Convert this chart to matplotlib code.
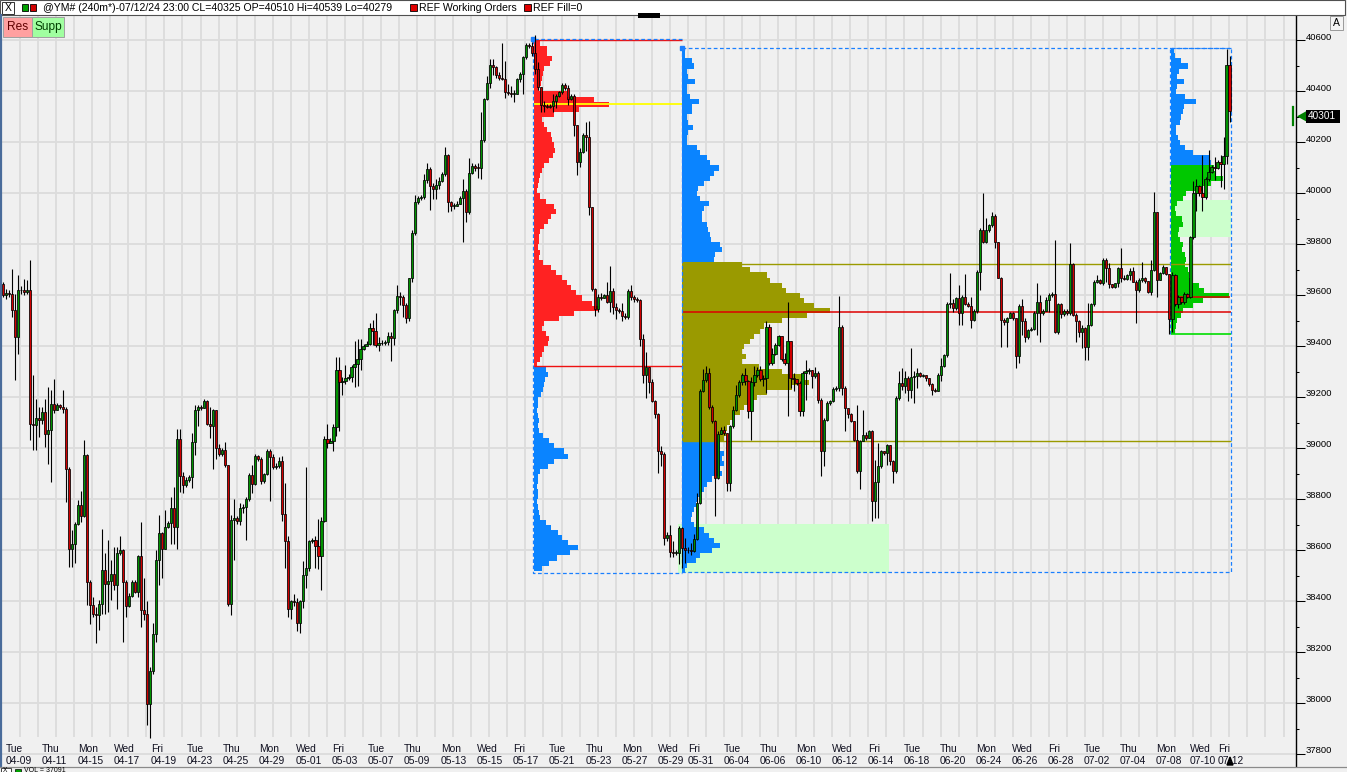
import numpy as np
import matplotlib
matplotlib.use("Agg")
import matplotlib.pyplot as plt
from matplotlib.patches import Rectangle, Polygon
from matplotlib.lines import Line2D
import matplotlib.transforms as mtransforms

plt.rcParams['font.family'] = ['Liberation Sans', 'DejaVu Sans']

# ---------------------------------------------------------------- data
symbol_info = "@YM# (240m*)-07/12/24 23:00 CL=40325 OP=40510 Hi=40539 Lo=40279"
first_open = 39646

closes = [
 39601, 39610, 39605, 39544, 39437, 39620, 39623, 39612, 39620, 39097,
 39093, 39120, 39113, 39143, 39058, 39071, 39176, 39152, 39169, 39163,
 39156, 38921, 38607, 38627, 38705, 38777, 38734, 38973, 38477, 38385,
 38352, 38346, 38389, 38525, 38470, 38479, 38509, 38464, 38588, 38600,
 38477, 38381, 38420, 38477, 38437, 38577, 38366, 38350, 37999, 38128,
 38272, 38564, 38669, 38607, 38690, 38708, 38768, 38690, 39035, 38891,
 38855, 38875, 38886, 39025, 39152, 39163, 39160, 39186, 39097, 39087,
 39152, 39003, 38977, 38995, 38934, 38389, 38721, 38727, 38716, 38768,
 38770, 38800, 38895, 38861, 38969, 38960, 38872, 38898, 38991, 38965,
 38929, 38930, 38949, 38743, 38635, 38371, 38402, 38398, 38314, 38402,
 38504, 38530, 38635, 38640, 38616, 38577, 38717, 39038, 39022, 39031,
 39084, 39306, 39259, 39263, 39275, 39280, 39321, 39332, 39352, 39391,
 39402, 39411, 39472, 39461, 39406, 39412, 39415, 39417, 39441, 39433,
 39541, 39599, 39592, 39561, 39510, 39667, 39845, 39968, 39983, 39988,
 40053, 40096, 40030, 40019, 40034, 40050, 40076, 40150, 39968, 39952,
 39952, 39960, 39983, 40011, 39926, 40081, 40109, 40101, 40099, 40209,
 40371, 40433, 40504, 40495, 40464, 40453, 40448, 40398, 40395, 40390,
 40390, 40448, 40468, 40535, 40581, 40580, 40549, 40489, 40418, 40348,
 40345, 40340, 40345, 40362, 40383, 40397, 40425, 40414, 40369, 40383,
 40268, 40124, 40161, 40229, 40222, 39945, 39625, 39548, 39595, 39590,
 39600, 39576, 39618, 39555, 39544, 39540, 39520, 39516, 39618, 39594,
 39586, 39583, 39429, 39286, 39320, 39261, 39185, 39135, 38991, 38980,
 38650, 38660, 38594, 38590, 38590, 38688, 38608, 38600, 38601, 38599,
 38643, 38786, 39225, 39267, 39296, 39163, 39106, 38884, 39057, 39073,
 39060, 38864, 39086, 39152, 39208, 39260, 39286, 39263, 39145, 39260,
 39286, 39309, 39273, 39278, 39478, 39335, 39370, 39407, 39439, 39352,
 39335, 39420, 39276, 39272, 39258, 39145, 39295, 39305, 39309, 39283,
 39295, 39191, 38988, 39113, 39178, 39185, 39234, 39238, 39478, 39237,
 39158, 39136, 39106, 39034, 38913, 39030, 39054, 39041, 39069, 38792,
 38868, 38930, 38988, 38982, 39012, 38952, 38910, 39197, 39256, 39245,
 39278, 39230, 39282, 39285, 39296, 39285, 39288, 39275, 39252, 39230,
 39226, 39289, 39325, 39366, 39565, 39570, 39550, 39591, 39533, 39595,
 39565, 39560, 39503, 39539, 39693, 39856, 39810, 39856, 39876, 39912,
 39808, 39669, 39503, 39494, 39513, 39530, 39510, 39364, 39560, 39500,
 39438, 39464, 39470, 39530, 39573, 39530, 39540, 39582, 39601, 39605,
 39458, 39565, 39526, 39538, 39530, 39722, 39523, 39500, 39458, 39473,
 39399, 39486, 39565, 39654, 39660, 39650, 39739, 39706, 39643, 39635,
 39647, 39706, 39667, 39665, 39680, 39696, 39654, 39621, 39660, 39670,
 39655, 39615, 39700, 39928, 39659, 39688, 39711, 39685, 39509, 39680,
 39567, 39594, 39575, 39607, 39595, 39829, 40001, 40031, 40001, 39985,
 40058, 40084, 40103, 40098, 40123, 40114, 40145, 40502, 40325]

highs = [
 39653, 39627, 39620, 39703, 39607, 39679, 39636, 39666, 39660, 39740,
 39287, 39195, 39163, 39163, 39195, 39241, 39228, 39274, 39180, 39175,
 39231, 39163, 38927, 38679, 38710, 38797, 38832, 39032, 38977, 38483,
 38418, 38378, 38405, 38682, 38588, 38640, 38562, 38614, 38614, 38656,
 38607, 38483, 38431, 38483, 38483, 38581, 38712, 38490, 38402, 38143,
 38316, 38601, 38738, 38673, 38758, 38716, 38810, 38849, 39078, 39078,
 38908, 38888, 38895, 39061, 39169, 39169, 39170, 39195, 39191, 39163,
 39156, 39152, 39019, 39000, 39025, 38934, 38738, 38803, 38735, 38784,
 38780, 38810, 38905, 38934, 38980, 38975, 38965, 38905, 38996, 38996,
 38980, 38941, 38965, 38972, 38864, 38655, 38407, 38430, 38414, 38407,
 38557, 38929, 38640, 38650, 38655, 38724, 38732, 39050, 39096, 39040,
 39096, 39360, 39360, 39282, 39329, 39290, 39329, 39422, 39431, 39430,
 39410, 39420, 39492, 39503, 39530, 39437, 39425, 39425, 39457, 39456,
 39546, 39639, 39615, 39603, 39569, 39670, 39856, 39995, 39990, 39995,
 40076, 40120, 40104, 40042, 40057, 40065, 40085, 40184, 40153, 39972,
 39964, 39972, 39990, 40057, 40019, 40138, 40120, 40115, 40120, 40321,
 40375, 40460, 40526, 40526, 40499, 40476, 40592, 40519, 40429, 40420,
 40406, 40453, 40476, 40538, 40592, 40590, 40594, 40622, 40517, 40418,
 40362, 40350, 40352, 40390, 40390, 40402, 40432, 40432, 40425, 40390,
 40390, 40264, 40180, 40236, 40282, 40285, 39948, 39628, 39604, 39611,
 39605, 39654, 39717, 39628, 39569, 39550, 39570, 39530, 39625, 39642,
 39600, 39595, 39586, 39450, 39380, 39320, 39272, 39190, 39137, 39008,
 38987, 38671, 38699, 38636, 38600, 38696, 38692, 38650, 38612, 38629,
 38664, 38825, 39233, 39310, 39324, 39317, 39170, 39113, 39070, 39085,
 39086, 39060, 39093, 39165, 39250, 39270, 39295, 39315, 39270, 39282,
 39322, 39318, 39322, 39289, 39498, 39488, 39394, 39413, 39446, 39441,
 39374, 39576, 39423, 39295, 39270, 39263, 39302, 39348, 39315, 39309,
 39318, 39302, 39198, 39119, 39185, 39190, 39239, 39243, 39596, 39485,
 39243, 39145, 39139, 39109, 39171, 39034, 39152, 39064, 39073, 39073,
 38956, 39021, 38995, 38990, 39017, 39014, 38956, 39204, 39305, 39315,
 39302, 39283, 39394, 39305, 39315, 39300, 39292, 39289, 39270, 39256,
 39235, 39295, 39354, 39370, 39575, 39689, 39588, 39595, 39641, 39602,
 39686, 39573, 39595, 39545, 39700, 39863, 40000, 39905, 39880, 39928,
 39918, 39804, 39673, 39510, 39517, 39535, 39535, 39510, 39565, 39588,
 39510, 39470, 39478, 39539, 39647, 39602, 39545, 39595, 39608, 39612,
 39817, 39570, 39570, 39545, 39545, 39804, 39726, 39530, 39504, 39484,
 39477, 39569, 39570, 39660, 39680, 39665, 39745, 39745, 39726, 39645,
 39650, 39713, 39785, 39680, 39685, 39706, 39713, 39660, 39667, 39732,
 39672, 39640, 39739, 40006, 39724, 39692, 39718, 39712, 39685, 39690,
 39685, 39600, 39594, 39615, 39610, 39835, 40050, 40058, 40035, 40149,
 40065, 40169, 40110, 40142, 40130, 40149, 40221, 40567, 40539]

lows = [
 39594, 39588, 39594, 39516, 39267, 39372, 39607, 39600, 39607, 39032,
 38993, 38993, 39045, 39097, 39006, 38940, 38869, 39137, 39150, 39155,
 39137, 38788, 38533, 38533, 38549, 38700, 38712, 38731, 38385, 38313,
 38339, 38237, 38287, 38352, 38352, 38359, 38405, 38444, 38372, 38581,
 38241, 38339, 38378, 38418, 38431, 38418, 38300, 38326, 37915, 37866,
 38117, 38241, 38464, 38490, 38666, 38686, 38627, 38627, 38607, 38829,
 38827, 38849, 38870, 38846, 38973, 39087, 39150, 39160, 39091, 39039,
 38921, 38960, 38969, 38970, 38927, 38381, 38346, 38562, 38705, 38699,
 38745, 38640, 38795, 38825, 38855, 38950, 38860, 38865, 38895, 38794,
 38920, 38918, 38923, 38717, 38531, 38337, 38329, 38383, 38283, 38275,
 38375, 38453, 38520, 38630, 38530, 38526, 38445, 38710, 39000, 39020,
 38991, 39050, 39069, 39208, 39254, 39270, 39259, 39239, 39244, 39306,
 39385, 39400, 39406, 39406, 39399, 39383, 39405, 39405, 39406, 39344,
 39406, 39533, 39561, 39515, 39491, 39499, 39654, 39837, 39960, 39975,
 39977, 40042, 39934, 39980, 39980, 40019, 40045, 40070, 39926, 39930,
 39941, 39949, 39958, 39809, 39890, 39918, 40076, 40090, 40061, 40057,
 40200, 40367, 40414, 40464, 40453, 40445, 40445, 40375, 40386, 40380,
 40360, 40390, 40437, 40391, 40526, 40570, 40538, 40468, 40404, 40320,
 40320, 40335, 40335, 40320, 40334, 40380, 40390, 40404, 40348, 40365,
 40226, 40074, 40103, 40159, 40166, 39917, 39618, 39520, 39534, 39583,
 39590, 39569, 39534, 39527, 39506, 39530, 39499, 39506, 39506, 39583,
 39576, 39575, 39401, 39258, 39197, 39218, 39183, 39120, 38903, 38931,
 38622, 38636, 38573, 38573, 38580, 38545, 38530, 38552, 38590, 38580,
 38594, 38640, 38780, 39220, 39260, 39156, 39100, 38734, 38880, 39060,
 39053, 38832, 38832, 39080, 39145, 39200, 39250, 39250, 39119, 39034,
 39243, 39280, 39265, 39243, 39217, 39328, 39326, 39365, 39400, 39341,
 39328, 39126, 39237, 39226, 39250, 39126, 39126, 39191, 39290, 39237,
 39276, 39178, 38890, 38930, 39106, 39170, 39182, 39224, 39224, 39210,
 39067, 39119, 39103, 39028, 38903, 38842, 39028, 39034, 39047, 38714,
 38727, 38727, 38925, 38975, 38936, 38936, 38864, 38903, 39191, 39230,
 39217, 39184, 39198, 39178, 39237, 39280, 39280, 39263, 39245, 39211,
 39220, 39230, 39263, 39320, 39360, 39550, 39536, 39543, 39484, 39484,
 39562, 39555, 39471, 39500, 39530, 39621, 39804, 39804, 39850, 39870,
 39787, 39667, 39399, 39484, 39399, 39510, 39505, 39314, 39334, 39445,
 39419, 39430, 39460, 39464, 39445, 39419, 39525, 39539, 39536, 39595,
 39451, 39450, 39510, 39520, 39525, 39525, 39520, 39416, 39438, 39392,
 39347, 39347, 39480, 39560, 39648, 39645, 39640, 39654, 39628, 39630,
 39630, 39634, 39654, 39660, 39660, 39660, 39654, 39490, 39615, 39654,
 39650, 39608, 39602, 39695, 39594, 39660, 39685, 39680, 39450, 39455,
 39560, 39550, 39565, 39567, 39590, 39590, 39820, 39933, 39990, 39933,
 39980, 40050, 40080, 40051, 40095, 40025, 40018, 40116, 40279]

last_price = 40301

# volume profile 1 (05-20 .. 05-30), 20-pt bins from the top, relative volume
p1_top_bin = 40590
p1_volume = [
 6, 13, 13, 18, 16, 10, 9, 8, 7, 5,
 33, 60, 75, 45, 20, 8, 10, 13, 17, 18,
 20, 21, 19, 15, 10, 8, 6, 5, 4, 3,
 6, 12, 20, 22, 17, 14, 10, 6, 5, 5,
 4, 6, 5, 9, 17, 22, 28, 33, 37, 42,
 48, 58, 65, 40, 25, 10, 8, 12, 15, 14,
 10, 8, 6, 3, 12, 14, 11, 10, 9, 7,
 4, 4, 3, 4, 5, 4, 5, 9, 15, 20,
 30, 34, 20, 14, 6, 4, 4, 3, 4, 4,
 3, 4, 5, 6, 12, 17, 24, 28, 34, 44,
 36, 23, 15, 8]
p1_high, p1_low, p1_vah, p1_val, p1_poc = 40606, 38511, 40603, 39322, 40350

# volume profile 2 (05-30 .. 07-12)
p2_top_bin = 40560
p2_volume = [
 3, 3, 10, 12, 5, 6, 13, 5, 5, 8,
 17, 10, 10, 5, 6, 11, 6, 5, 5, 15,
 18, 25, 28, 37, 32, 28, 22, 16, 15, 18,
 27, 22, 20, 20, 25, 26, 28, 29, 38, 40,
 33, 32, 60, 68, 85, 88, 100, 104, 118, 122,
 132, 148, 125, 100, 82, 78, 72, 68, 62, 60,
 64, 60, 77, 100, 120, 127, 110, 85, 75, 70,
 62, 58, 52, 48, 45, 44, 42, 38, 38, 42,
 40, 42, 38, 40, 30, 25, 22, 18, 16, 14,
 12, 10, 9, 12, 22, 27, 32, 38, 30, 18,
 14, 5, 3]
p2_high, p2_low, p2_vah, p2_val, p2_poc = 40569, 38515, 39722, 39028, 39534

# volume profile 3 (07-08 .. 07-12)
p3_top_bin = 40560
p3_volume = [
 3, 4, 10, 17, 8, 6, 13, 6, 5, 14,
 25, 13, 12, 10, 9, 5, 5, 7, 9, 14,
 22, 38, 40, 43, 45, 52, 40, 32, 15, 12,
 6, 4, 5, 11, 12, 8, 7, 9, 12, 11,
 14, 15, 14, 17, 18, 20, 28, 33, 58, 32,
 22, 12, 10, 6, 5, 4]
p3_high, p3_low, p3_va_top, p3_poc = 40569, 39448, 40118, 39593

# support zones (price ranges)
supp_zone_1 = (38511, 38703)
supp_zone_2 = (39828, 39975)

price_ticks = list(range(37800, 40601, 200))

day_names = ['Tue', 'Thu', 'Mon', 'Wed', 'Fri', 'Tue', 'Thu', 'Mon', 'Wed', 'Fri',
             'Tue', 'Thu', 'Mon', 'Wed', 'Fri', 'Tue', 'Thu', 'Mon', 'Wed', 'Fri',
             'Tue', 'Thu', 'Mon', 'Wed', 'Fri', 'Tue', 'Thu', 'Mon', 'Wed', 'Fri',
             'Tue', 'Thu', 'Mon', 'Wed', 'Fri']
day_dates = ['04-09', '04-11', '04-15', '04-17', '04-19', '04-23', '04-25', '04-29',
             '05-01', '05-03', '05-07', '05-09', '05-13', '05-15', '05-17', '05-21',
             '05-23', '05-27', '05-29', '05-31', '06-04', '06-06', '06-10', '06-12',
             '06-14', '06-18', '06-20', '06-24', '06-26', '06-28', '07-02', '07-04',
             '07-08', '07-10', '07-12']

# ---------------------------------------------------------------- layout
W, H = 1347.0, 772.0
BAR_PX, X0_PX = 3.007, 2.7          # pixel pitch of one bar, first bar position
PRICE_AT_0, PRICE_PER_PX = 40757.0, 3.92
AX_L, AX_T, AX_R, AX_B = 0, 15, 1296, 767

def px2x(px):
    return (px - X0_PX) / BAR_PX

def py2p(py):
    return PRICE_AT_0 - PRICE_PER_PX * py

def p2py(p):
    return (PRICE_AT_0 - p) / PRICE_PER_PX

label_px = [6, 42, 78, 114, 151, 187, 223, 259, 296, 332, 368, 404, 441, 477, 513,
            549, 586, 622, 658, 688, 724, 760, 796, 832, 868, 904, 940, 976, 1012,
            1048, 1084, 1120, 1156, 1190, 1218]

BG = '#f0f0f0'
GRID = '#dcdcdc'
RED_P = '#ff2222'
BLUE_P = '#0a84ff'
OLIVE = '#9a9a00'
GREEN_P = '#00c800'
PALE = '#ccffcc'
BOX = '#1a80ff'

fig = plt.figure(figsize=(W / 100, H / 100), dpi=100)
fig.patch.set_facecolor(BG)

def fbox(x0, y0, x1, y1):
    return [x0 / W, 1 - y1 / H, (x1 - x0) / W, (y1 - y0) / H]

def prect(x0, y0, x1, y1, **kw):
    fig.add_artist(Rectangle((x0 / W, 1 - y1 / H), (x1 - x0) / W, (y1 - y0) / H,
                             transform=fig.transFigure, **kw))

def pline(xs, ys, **kw):
    fig.add_artist(Line2D([x / W for x in xs], [1 - y / H for y in ys],
                          transform=fig.transFigure, **kw))

def ptext(x, y, s, **kw):
    fig.text(x / W, 1 - y / H, s, **kw)

ax = fig.add_axes(fbox(AX_L, AX_T, AX_R, AX_B))
ax.set_facecolor(BG)
ax.set_xlim(px2x(AX_L), px2x(AX_R))
ax.set_ylim(py2p(AX_B), py2p(AX_T))

# grid
ax.hlines(price_ticks, px2x(AX_L), px2x(AX_R), colors=GRID, linewidth=1.3, zorder=0)
gx = [px2x(20 + 18.05 * k) for k in range(72) if 20 + 18.05 * k < AX_R]
ax.vlines(gx, py2p(737), py2p(AX_T), colors=GRID, linewidth=1.3, zorder=0)

# support zones
x_z1 = (px2x(678), px2x(889))
x_z2 = (px2x(1175), px2x(1231))
ax.add_patch(Rectangle((x_z1[0], supp_zone_1[0]), x_z1[1] - x_z1[0],
                       supp_zone_1[1] - supp_zone_1[0], facecolor=PALE, edgecolor='none', zorder=1))
ax.add_patch(Rectangle((x_z2[0], supp_zone_2[0]), x_z2[1] - x_z2[0],
                       supp_zone_2[1] - supp_zone_2[0], facecolor=PALE, edgecolor='none', zorder=1))

# profiles
p1_x = (px2x(533), px2x(681.5))
p2_x = (px2x(681.5), px2x(1231))
p3_x = (px2x(1170), px2x(1231))

def draw_profile(top_bin, vols, x0, colfn):
    vols = np.asarray(vols, dtype=float)
    centers = top_bin - 20 * np.arange(len(vols))
    ax.barh(centers, vols / BAR_PX, height=20, left=x0 + 0.3,
            color=[colfn(c) for c in centers], linewidth=0, zorder=2)

draw_profile(p1_top_bin, p1_volume, p1_x[0],
             lambda c: RED_P if c >= p1_val else BLUE_P)
draw_profile(p2_top_bin, p2_volume, p2_x[0],
             lambda c: OLIVE if p2_val <= c <= p2_vah else BLUE_P)
draw_profile(p3_top_bin, p3_volume, p3_x[0],
             lambda c: BLUE_P if c > p3_va_top else GREEN_P)

# profile lines
ax.hlines([p1_vah, p1_val], p1_x[0] + 0.3, p1_x[1], colors='#ee1111', linewidth=1.0, zorder=3)
ax.hlines([p1_poc], p1_x[0] + 0.3, p1_x[1], colors='#ffff00', linewidth=1.3, zorder=3)
ax.hlines([p2_vah, p2_val], p2_x[0], p2_x[1], colors=OLIVE, linewidth=1.0, zorder=3)
ax.hlines([p2_poc], p2_x[0], p2_x[1], colors='#dd0000', linewidth=1.1, zorder=3)
ax.hlines([p3_poc], p3_x[0] + 0.3, p3_x[1] - 0.4, colors='#dd0000', linewidth=1.1, zorder=3)
ax.hlines([p3_low], p3_x[0] + 0.3, p3_x[1], colors='#00dd00', linewidth=1.2, zorder=3)

dash = (0, (3, 2))
ax.plot([p1_x[1], p1_x[0], p1_x[0], p1_x[1]], [p1_high, p1_high, p1_low, p1_low],
        ls=dash, color=BOX, lw=0.9, zorder=3)
ax.plot([p2_x[0], p2_x[1], p2_x[1], p2_x[0], p2_x[0]],
        [p2_high, p2_high, p2_low, p2_low, p2_high], ls=dash, color=BOX, lw=0.9, zorder=3)
ax.plot([p3_x[0], p3_x[0], p3_x[1]], [p3_low, p3_high, p3_high],
        ls=dash, color=BOX, lw=0.9, zorder=3)
ax.plot([p1_x[0], p2_x[0]], [p1_high, p2_high], ls='none', marker='s', ms=3,
        color=BOX, zorder=3)

# candles
c = np.asarray(closes, dtype=float)
o = np.concatenate([[first_open], c[:-1]])
hi = np.maximum.reduce([np.asarray(highs, float), o, c])
lo = np.minimum.reduce([np.asarray(lows, float), o, c])
xi = np.arange(len(c))
ax.vlines(xi, lo, hi, colors='black', linewidth=0.8, zorder=4)
body_b = np.minimum(o, c)
body_h = np.maximum(np.abs(c - o), 3)
cols = np.where(c >= o, '#009200', '#d00000')
ax.bar(xi, body_h, bottom=body_b, width=0.72, color=cols, edgecolor='black',
       linewidth=0.55, zorder=5)

# axes / right price scale
for s in ['left', 'top', 'bottom']:
    ax.spines[s].set_visible(False)
ax.spines['right'].set_color('black')
ax.spines['right'].set_linewidth(1.0)
ax.set_xticks([])
ax.yaxis.tick_right()
ax.set_yticks(price_ticks)
ax.set_yticklabels([str(p) for p in price_ticks])
ax.set_yticks([p + 100 for p in price_ticks[:-1]] + [price_ticks[-1] + 100], minor=True)
ax.tick_params(axis='y', which='major', length=6.5, width=0.75, direction='out',
               labelsize=6.8, pad=0.6, colors='black')
ax.tick_params(axis='y', which='minor', length=2.5, width=0.75, direction='out')
off = mtransforms.ScaledTranslation(0, 3.2 / 72, fig.dpi_scale_trans)
for lab in ax.get_yticklabels():
    lab.set_transform(lab.get_transform() + off)

# date labels
for px, dn, dd in zip(label_px, day_names, day_dates):
    ptext(px, 749, dn, fontsize=7.4, color='#101020', va='center', ha='left')
    ptext(px, 761, dd, fontsize=7.4, color='#101020', va='center', ha='left')
fig.add_artist(Polygon([((1227) / W, 1 - 765 / H), ((1233) / W, 1 - 765 / H),
                        ((1230) / W, 1 - 757 / H)], closed=True, transform=fig.transFigure,
                       facecolor='black', edgecolor='black'))

# last price marker
lp = p2py(last_price)
pline([1293, 1293], [lp - 9, lp + 9], color='#008000', lw=1.6)
fig.add_artist(Polygon([(1297 / W, 1 - lp / H), (1306 / W, 1 - (lp - 5) / H),
                        (1306 / W, 1 - (lp + 5) / H)], closed=True,
                       transform=fig.transFigure, facecolor='#008000', edgecolor='none'))
prect(1306, lp - 6.5, 1340, lp + 6.5, facecolor='black', edgecolor='none')
ptext(1308, lp, str(last_price), fontsize=7.2, color='white', va='center', ha='left')

# left border strip, bottom separator + volume sub-panel strip
pline([1, 1], [15, 767], color='#4a6c9b', lw=1.6)
prect(0, 767, W, H, facecolor=BG, edgecolor='none')
pline([0, W], [767, 767], color='#8a8a8a', lw=0.9)
prect(1, 768, 11, 776, facecolor='white', edgecolor='#404040', lw=0.7)
ptext(3, 771.6, 'X', fontsize=4.8, va='baseline', ha='left')
prect(15, 768.5, 21, 774, facecolor='#00a000', edgecolor='black', lw=0.5)
ptext(24, 771.6, 'VOL = 37091', fontsize=5.0, va='baseline', ha='left', color='black')

# header
prect(0, 0, 1345, 15, facecolor='white', edgecolor='#505050', lw=0.8)
prect(2, 1.5, 14, 13.5, facecolor='white', edgecolor='#303030', lw=0.7)
ptext(8, 8, 'X', fontsize=7.5, va='center', ha='center')
prect(22, 4, 28, 11, facecolor='#00a000', edgecolor='black', lw=0.6)
prect(30, 4, 36, 11, facecolor='#d00000', edgecolor='black', lw=0.6)
ptext(43, 8, symbol_info, fontsize=7.6, va='center', ha='left', color='black')
prect(410, 4, 417, 11, facecolor='#e00000', edgecolor='black', lw=0.6)
ptext(419, 8, 'REF Working Orders', fontsize=7.6, va='center', ha='left', color='black')
prect(524, 4, 531, 11, facecolor='#e00000', edgecolor='black', lw=0.6)
ptext(533, 8, 'REF Fill=0', fontsize=7.6, va='center', ha='left', color='black')
prect(638, 13.5, 660, 17.5, facecolor='black', edgecolor='none')

# Res / Supp buttons
prect(3, 17, 32, 37, facecolor='#ffa0a0', edgecolor='#a0a0a0', lw=0.7)
ptext(17.5, 27, 'Res', fontsize=8.6, va='center', ha='center', color='#600000')
prect(32, 17, 64, 37, facecolor='#a0ffa0', edgecolor='#a0a0a0', lw=0.7)
ptext(48, 27, 'Supp', fontsize=8.6, va='center', ha='center', color='#004000')

# "A" button
prect(1330, 16, 1343, 30, facecolor='#f4f4f4', edgecolor='#9a9a9a', lw=0.7)
ptext(1336.5, 23, 'A', fontsize=7.5, va='center', ha='center')

fig.savefig('out.png', dpi=100, facecolor=fig.get_facecolor())
